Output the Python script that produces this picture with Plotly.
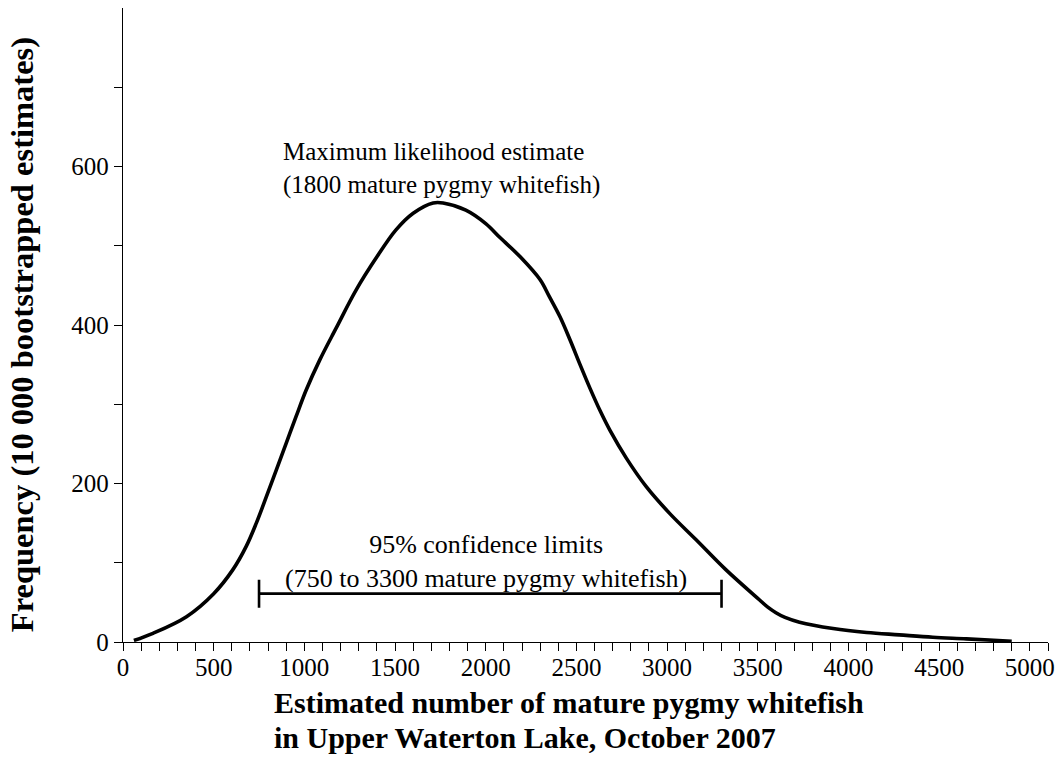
import plotly.graph_objects as go

# Bootstrapped frequency curve
est_number = [60, 165, 350, 500, 605, 680, 735, 790, 845, 900, 955, 1010, 1085, 1175,
              1285, 1400, 1505, 1600, 1710, 1765, 1890, 2000, 2080, 2190, 2300, 2350,
              2410, 2465, 2520, 2575, 2630, 2685, 2775, 2885, 3015, 3160, 3325, 3510,
              3555, 3600, 3650, 3730, 3915, 4100, 4280, 4465, 4650, 4900]
frequency = [2, 11, 32, 61, 91, 121, 150, 183, 217, 251, 285, 318, 356, 396,
             444, 486, 520, 541, 554, 554, 545, 528, 510, 486, 457, 436,
             410, 381, 350, 320, 292, 267, 232, 196, 162, 129, 91, 53,
             44, 37, 31, 25, 17, 12, 9, 6, 4, 1]

# 95% confidence limits
ci_low = 750
ci_high = 3300
ci_level = 61

x_major = [0, 500, 1000, 1500, 2000, 2500, 3000, 3500, 4000, 4500, 5000]
x_minor = [v for v in range(100, 5101, 100) if v % 500 != 0]
y_major = [0, 200, 400, 600]
y_minor = [100, 300, 500, 700]

FONT = "Liberation Serif, Times New Roman, serif"

fig = go.Figure()
fig.add_trace(go.Scatter(
    x=est_number, y=frequency, mode="lines",
    line=dict(color="black", width=3.6, shape="spline", smoothing=1.0),
    hoverinfo="skip", showlegend=False))

ci_mid = (ci_low + ci_high) / 2
fig.add_trace(go.Scatter(
    x=[ci_mid], y=[ci_level], mode="markers",
    marker=dict(size=0.1, color="black", opacity=0),
    error_x=dict(type="data", array=[ci_high - ci_mid], symmetric=True,
                 color="black", thickness=2.6, width=14),
    hoverinfo="skip", showlegend=False))

axis_common = dict(
    showline=True, linecolor="black", linewidth=1.3, mirror=False,
    ticks="outside", ticklen=8, tickwidth=1.3, tickcolor="black",
    showgrid=False, zeroline=False, tickmode="array",
    tickfont=dict(family=FONT, size=25, color="black"),
)

fig.update_xaxes(range=[0, 5100], tickvals=x_major,
                 ticktext=[str(v) for v in x_major],
                 ticklabelstandoff=-5,
                 minor=dict(tickmode="array", tickvals=x_minor, ticks="outside",
                            ticklen=8, tickwidth=1.3, tickcolor="black"),
                 **axis_common)
fig.update_yaxes(range=[0, 800], tickvals=y_major,
                 ticktext=[str(v) for v in y_major],
                 minor=dict(tickmode="array", tickvals=y_minor, ticks="outside",
                            ticklen=8, tickwidth=1.3, tickcolor="black"),
                 **axis_common)

annotations = [
    dict(x=869, y=597, xref="x", yref="y", xanchor="left", yanchor="middle",
         align="left", showarrow=False,
         text="Maximum likelihood estimate<br>(1800 mature pygmy whitefish)",
         font=dict(family=FONT, size=25, color="black")),
    dict(x=2000, y=101, xref="x", yref="y", xanchor="center", yanchor="middle",
         align="center", showarrow=False,
         text="95% confidence limits<br>(750 to 3300 mature pygmy whitefish)",
         font=dict(family=FONT, size=26, color="black")),
    dict(x=0, y=0.484, xref="paper", yref="paper", xanchor="center", yanchor="middle",
         xshift=-101, textangle=-90, showarrow=False,
         text="<b>Frequency (10 000 bootstrapped estimates)</b>",
         font=dict(family=FONT, size=32.5, color="black")),
    dict(x=0, y=0, xref="paper", yref="paper", xanchor="left", yanchor="middle",
         xshift=149, yshift=-60, showarrow=False, align="left",
         text="<b>Estimated number of mature pygmy whitefish</b>",
         font=dict(family=FONT, size=30, color="black")),
    dict(x=0, y=0, xref="paper", yref="paper", xanchor="left", yanchor="middle",
         xshift=149, yshift=-95, showarrow=False, align="left",
         text="<b>in Upper Waterton Lake, October 2007</b>",
         font=dict(family=FONT, size=30, color="black")),
]

fig.update_layout(
    width=1063, height=783,
    margin=dict(l=123, r=15, t=8, b=141),
    paper_bgcolor="white", plot_bgcolor="white",
    annotations=annotations,
    showlegend=False,
)

fig.write_html("out.html")
